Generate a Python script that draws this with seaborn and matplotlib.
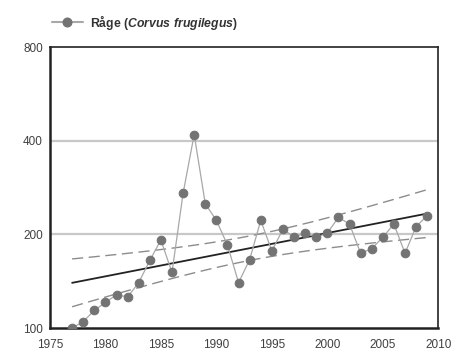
import matplotlib
matplotlib.use("Agg")
import matplotlib.pyplot as plt
import numpy as np
import pandas as pd
import seaborn as sns
from matplotlib.lines import Line2D
from matplotlib.ticker import FixedLocator, MultipleLocator, NullFormatter, NullLocator

# Index values for the rook
years = list(range(1977, 2010))
index = [100, 105, 114, 121, 128, 126, 140, 165, 192, 151, 271, 419, 251, 222,
         185, 140, 166, 222, 177, 208, 196, 202, 196, 202, 227, 216, 174, 180,
         196, 216, 174, 212, 230]

series_label = r"Råge $\mathit{(Corvus\ frugilegus)}$"
y_ticks = [100, 200, 400, 800]
x_ticks = [1975, 1980, 1985, 1990, 1995, 2000, 2005, 2010]

df = pd.DataFrame({"year": years, "index": index})

# log-linear trend with confidence band
x = df["year"].to_numpy(float)
ly = np.log(df["index"].to_numpy(float))
n = len(x)
slope, icept = np.polyfit(x, ly, 1)
fit = icept + slope * x
resid = ly - fit
s = np.sqrt(np.sum(resid ** 2) / (n - 2))
sxx = np.sum((x - x.mean()) ** 2)
se = s * np.sqrt(1.0 / n + (x - x.mean()) ** 2 / sxx)
t = 2.04
trend = np.exp(fit)
upper = np.exp(fit + t * se)
lower = np.exp(fit - t * se)

sns.set_style("white")
plt.rcParams["font.family"] = ["Liberation Sans", "DejaVu Sans"]
plt.rcParams["mathtext.fontset"] = "custom"
plt.rcParams["mathtext.it"] = "Liberation Sans:italic:bold"
plt.rcParams["mathtext.rm"] = "Liberation Sans:bold"
plt.rcParams["mathtext.bf"] = "Liberation Sans:bold"

fig = plt.figure(figsize=(4.58, 3.54), dpi=100)
ax = fig.add_axes([0.109, 0.073, 0.848, 0.794])

for v in [200, 400]:
    ax.axhline(v, color="#c8c8c8", lw=1.6, zorder=0)

sns.lineplot(x=x, y=upper, ax=ax, color="#8c8c8c", lw=1.0, dashes=(8, 4), zorder=2)
sns.lineplot(x=x, y=lower, ax=ax, color="#8c8c8c", lw=1.0, dashes=(8, 4), zorder=2)
sns.lineplot(x=x, y=trend, ax=ax, color="#222222", lw=1.3, zorder=3)
sns.lineplot(data=df, x="year", y="index", ax=ax, color="#a8a8a8", lw=0.9,
             marker="o", markersize=6.2, markerfacecolor="#737373",
             markeredgecolor="#737373", zorder=4)

ax.set_yscale("log")
ax.set_ylim(100, 800)
ax.set_xlim(1975, 2010)
ax.yaxis.set_major_locator(FixedLocator(y_ticks))
ax.yaxis.set_minor_locator(NullLocator())
ax.yaxis.set_minor_formatter(NullFormatter())
ax.set_yticks(y_ticks)
ax.set_yticklabels([str(v) for v in y_ticks])
ax.set_xticks(x_ticks)
ax.set_xticklabels([str(v) for v in x_ticks])
ax.xaxis.set_minor_locator(MultipleLocator(1))
ax.set_xlabel("")
ax.set_ylabel("")

for side in ["left", "bottom"]:
    ax.spines[side].set_linewidth(1.8)
for side in ["top", "right"]:
    ax.spines[side].set_linewidth(1.2)
for sp in ax.spines.values():
    sp.set_color("#222222")

ax.tick_params(axis="both", which="major", direction="out", length=3, width=1,
               labelsize=8.5, colors="#222222", labelcolor="#404040", pad=2)
ax.tick_params(axis="x", which="minor", direction="out", length=2, width=0.8,
               colors="#222222")
ax.tick_params(axis="x", which="major", pad=5)

handle = Line2D([], [], color="#a8a8a8", lw=1.5, marker="o", markersize=6.2,
                markerfacecolor="#737373", markeredgecolor="#737373")
leg = fig.legend([handle], [series_label], loc="upper left",
                 bbox_to_anchor=(0.09, 0.995), frameon=False, handlelength=2.5,
                 handletextpad=0.6, prop={"size": 8.8, "weight": "bold"})
for txt in leg.get_texts():
    txt.set_color("#333333")

fig.savefig("out.png", dpi=100)
